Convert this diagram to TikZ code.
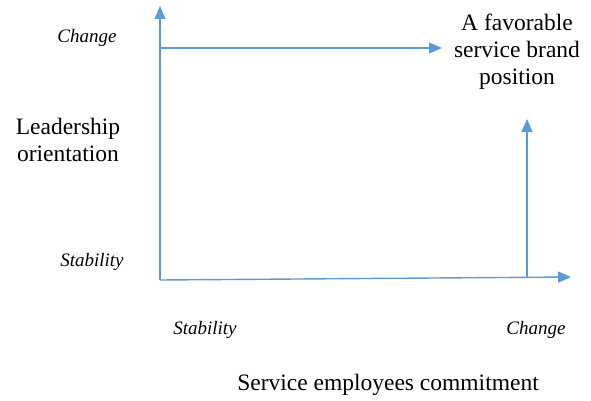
\documentclass[tikz,border=0pt]{standalone}
\usepackage{fontspec}
\setmainfont{Liberation Serif}
\definecolor{axisblue}{HTML}{5B9BD5}
\tikzset{
	axis/.style={draw=axisblue, line width=1.4pt, -{Triangle[length=13pt,width=11pt]}},
	tick/.style={font=\fontsize{19}{22}\selectfont\itshape},
	title/.style={font=\fontsize{23.5}{27}\selectfont, align=center}
}
\usetikzlibrary{arrows.meta}
\begin{document}
\begin{tikzpicture}[x=1pt,y=-1pt]
		\useasboundingbox (0,0) rectangle (591,401);
		\coordinate (O) at (160,280);
		\coordinate (ytop) at (160,6);
		\coordinate (xend) at (571,277);
		\coordinate (topl) at (160,48);
		\coordinate (topr) at (442,48);
		\coordinate (rbot) at (527,277);
		\coordinate (rtop) at (527,119);

		\draw[axis] (O) -- (ytop);
		\draw[axis] (O) -- (xend);
		\draw[axis] (topl) -- (topr);
		\draw[axis] (rbot) -- (rtop);

		\node[tick] (ychange) at (87,38) {Change};
		\node[tick] (ystab) at (92,262) {Stability};
		\node[tick] (xstab) at (205,330) {Stability};
		\node[tick] (xchange) at (536,330) {Change};

		\node[title] (lead) at (68,140) {Leadership\\orientation};
		\node[title] (brand) at (517,52) {A favorable\\service brand\\position};
		\node[title] (commit) at (388,385) {Service employees commitment};
	\end{tikzpicture}
\end{document}
